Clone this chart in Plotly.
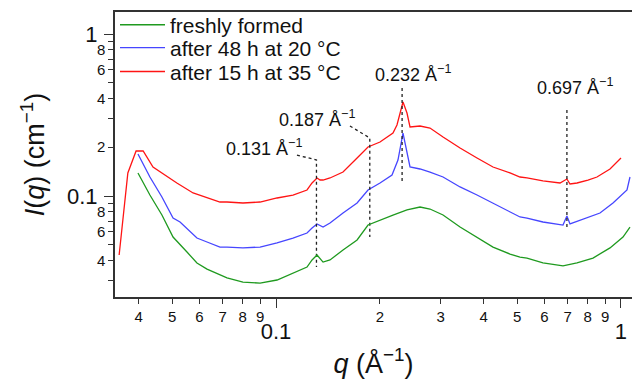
import math
import plotly.graph_objects as go

# ---------------- data ----------------
q_red = [0.0351, 0.0372, 0.0393, 0.0412, 0.0440, 0.0467, 0.0516, 0.0575, 0.0631, 0.0688,
         0.0721, 0.0802, 0.0899, 0.1007, 0.1120, 0.1230, 0.1272, 0.1315, 0.1342, 0.1369,
         0.1434, 0.1564, 0.1718, 0.1848, 0.2002, 0.2183, 0.2242, 0.2334, 0.2397, 0.2446,
         0.2615, 0.2795, 0.3049, 0.3416, 0.3825, 0.4256, 0.4768, 0.5096, 0.5340, 0.5940,
         0.6656, 0.6970, 0.7115, 0.7456, 0.8022, 0.8519, 0.9293, 1.0000]
I_red = [0.0432, 0.1387, 0.1896, 0.1896, 0.1510, 0.1387, 0.1203, 0.1044, 0.0972, 0.0918,
         0.0918, 0.0905, 0.0918, 0.0972, 0.1014, 0.1089, 0.1203, 0.1292, 0.1255, 0.1255,
         0.1292, 0.1406, 0.1717, 0.2007, 0.2154, 0.2448, 0.2744, 0.3804, 0.3253, 0.2667,
         0.2705, 0.2629, 0.2313, 0.1979, 0.1717, 0.1510, 0.1387, 0.1310, 0.1292, 0.1238,
         0.1203, 0.1273, 0.1186, 0.1203, 0.1255, 0.1310, 0.1468, 0.1717]

q_blue = [0.0398, 0.0431, 0.0467, 0.0503, 0.0527, 0.0590, 0.0631, 0.0688, 0.0721, 0.0802,
          0.0899, 0.1007, 0.1120, 0.1230, 0.1272, 0.1315, 0.1369, 0.1434, 0.1564, 0.1718,
          0.1848, 0.2002, 0.2169, 0.2257, 0.2334, 0.2397, 0.2446, 0.2615, 0.2795, 0.3049,
          0.3416, 0.3825, 0.4256, 0.4768, 0.5096, 0.5340, 0.5940, 0.6790, 0.6970, 0.7115,
          0.8022, 0.8692, 0.9480, 1.0409, 1.0619]
I_blue = [0.1817, 0.1310, 0.0986, 0.0731, 0.0691, 0.0550, 0.0520, 0.0484, 0.0484, 0.0478,
          0.0484, 0.0513, 0.0550, 0.0591, 0.0635, 0.0672, 0.0643, 0.0681, 0.0785, 0.0905,
          0.1089, 0.1203, 0.1348, 0.1668, 0.2448, 0.1842, 0.1510, 0.1468, 0.1406, 0.1310,
          0.1137, 0.1014, 0.0905, 0.0797, 0.0742, 0.0731, 0.0691, 0.0662, 0.0752, 0.0672,
          0.0742, 0.0785, 0.0905, 0.1089, 0.1310]

q_green = [0.0398, 0.0431, 0.0467, 0.0503, 0.0552, 0.0590, 0.0631, 0.0688, 0.0721, 0.0802,
           0.0899, 0.1007, 0.1120, 0.1230, 0.1272, 0.1315, 0.1369, 0.1434, 0.1564, 0.1718,
           0.1848, 0.2002, 0.2183, 0.2397, 0.2615, 0.2795, 0.3049, 0.3416, 0.3825, 0.4256,
           0.4768, 0.5096, 0.5340, 0.5940, 0.6790, 0.7456, 0.8295, 0.9293, 1.0134, 1.0619]
I_green = [0.1387, 0.1014, 0.0763, 0.0558, 0.0451, 0.0386, 0.0354, 0.0325, 0.0312, 0.0294,
           0.0290, 0.0303, 0.0335, 0.0364, 0.0403, 0.0432, 0.0391, 0.0403, 0.0464, 0.0535,
           0.0662, 0.0711, 0.0763, 0.0820, 0.0855, 0.0831, 0.0763, 0.0643, 0.0558, 0.0484,
           0.0438, 0.0420, 0.0414, 0.0386, 0.0370, 0.0386, 0.0414, 0.0478, 0.0558, 0.0643]

series_names = ["freshly formed", "after 48 h at 20 °C", "after 15 h at 35 °C"]

# peak annotations
peak_q = [0.131, 0.187, 0.232, 0.697]
peak_labels = ["0.131 Å<sup>−1</sup>", "0.187 Å<sup>−1</sup>", "0.232 Å<sup>−1</sup>", "0.697 Å<sup>−1</sup>"]
label_q = [0.0926, 0.1319, 0.2503, 0.7376]
label_I = [0.199, 0.303, 0.574, 0.477]
leader_top_I = [0.1668, 0.2281, 0.464, 0.339]
leader_bot_I = [0.0364, 0.0558, 0.122, 0.0643]
leader_start_q = [0.1150, 0.1638, None, None]
leader_start_I = [0.179, 0.2705, None, None]

# axis ticks
x_minor_vals = [0.04, 0.05, 0.06, 0.07, 0.08, 0.09, 0.2, 0.3, 0.4, 0.5, 0.6, 0.7, 0.8, 0.9]
x_minor_text = ["4", "5", "6", "7", "8", "9", "2", "3", "4", "5", "6", "7", "8", "9"]
x_major_vals = [0.1, 1]
x_major_text = ["0.1", "1"]
y_minor_vals = [0.03, 0.04, 0.05, 0.06, 0.07, 0.08, 0.09, 0.2, 0.3, 0.4, 0.5, 0.6, 0.7, 0.8, 0.9]
y_minor_text = ["", "4", "", "6", "", "8", "", "2", "", "4", "", "6", "", "8", ""]
y_major_vals = [0.1, 1]
y_major_text = ["0.1", "1"]

X_RANGE = [-1.4667, 0.0319]
Y_RANGE = [-1.6235, 0.1358]

FONT = "Liberation Sans, Arial, Helvetica, sans-serif"
GREEN, BLUE, RED = "#1f9a1f", "#4646ff", "#ff1414"
AX = "#333333"

# legend row positions (paper fraction)
legend_rows_y = [0.954, 0.874, 0.790]

fig = go.Figure()
fig.add_trace(go.Scatter(x=q_green, y=I_green, mode="lines", name=series_names[0],
                         line=dict(color=GREEN, width=1.3), xaxis="x2", yaxis="y2",
                         legend="legend"))
fig.add_trace(go.Scatter(x=q_blue, y=I_blue, mode="lines", name=series_names[1],
                         line=dict(color=BLUE, width=1.3), legend="legend2"))
fig.add_trace(go.Scatter(x=q_red, y=I_red, mode="lines", name=series_names[2],
                         line=dict(color=RED, width=1.3), legend="legend3"))

# dotted leader lines
for i, pq in enumerate(peak_q):
    xs = [pq, pq]
    ys = [leader_top_I[i], leader_bot_I[i]]
    if leader_start_q[i] is not None:
        xs = [leader_start_q[i]] + xs
        ys = [leader_start_I[i]] + ys
    fig.add_trace(go.Scatter(x=xs, y=ys, mode="lines", showlegend=False, hoverinfo="skip",
                             line=dict(color="#222222", width=1.3, dash="dot")))
    fig.add_annotation(x=math.log10(label_q[i]), y=math.log10(label_I[i]), text=peak_labels[i],
                       showarrow=False, xref="x", yref="y", font=dict(size=18, color="#111"),
                       xanchor="center", yanchor="middle")

legend_common = dict(x=0.0, xanchor="left", yanchor="middle", bgcolor="rgba(0,0,0,0)",
                     font=dict(size=21), itemwidth=45)

fig.update_layout(
    width=632, height=383,
    margin=dict(l=115, r=0, t=12, b=86, autoexpand=False),
    paper_bgcolor="white", plot_bgcolor="white",
    font=dict(family=FONT, color="#111111"),
    showlegend=True,
    legend=dict(y=legend_rows_y[0], **legend_common),
    legend2=dict(y=legend_rows_y[1], **legend_common),
    legend3=dict(y=legend_rows_y[2], **legend_common),
    xaxis=dict(type="log", range=X_RANGE, showgrid=False, zeroline=False,
               showline=True, linecolor=AX, linewidth=1.5, mirror=True,
               ticks="outside", ticklen=5, tickwidth=1.3, tickcolor=AX,
               tickmode="array", tickvals=x_minor_vals, ticktext=x_minor_text,
               tickfont=dict(size=15), ticklabelstandoff=0,
               title=dict(text="<i>q</i> (Å<sup>−1</sup>)", font=dict(size=27), standoff=30)),
    xaxis2=dict(type="log", range=X_RANGE, overlaying="x", anchor="y2", side="bottom",
                showgrid=False, zeroline=False, showline=False,
                ticks="outside", ticklen=10, tickwidth=1.3, tickcolor=AX,
                tickmode="array", tickvals=x_major_vals, ticktext=x_major_text,
                tickfont=dict(size=22), ticklabelstandoff=5),
    yaxis=dict(type="log", range=Y_RANGE, showgrid=False, zeroline=False,
               showline=True, linecolor=AX, linewidth=1.5,
               ticks="outside", ticklen=5, tickwidth=1.3, tickcolor=AX,
               tickmode="array", tickvals=y_minor_vals, ticktext=y_minor_text,
               tickfont=dict(size=15), ticklabelstandoff=0,
               title=dict(text="<i>I</i>(<i>q</i>) (cm<sup>−1</sup>)", font=dict(size=27), standoff=44)),
    yaxis2=dict(type="log", range=Y_RANGE, overlaying="y", anchor="x2", side="left",
                showgrid=False, zeroline=False, showline=False,
                ticks="outside", ticklen=10, tickwidth=1.3, tickcolor=AX,
                tickmode="array", tickvals=y_major_vals, ticktext=y_major_text,
                tickfont=dict(size=22), ticklabelstandoff=2),
)

fig.write_html("out.html", config={"displayModeBar": False},
               post_script="document.body.style.margin='0';")
